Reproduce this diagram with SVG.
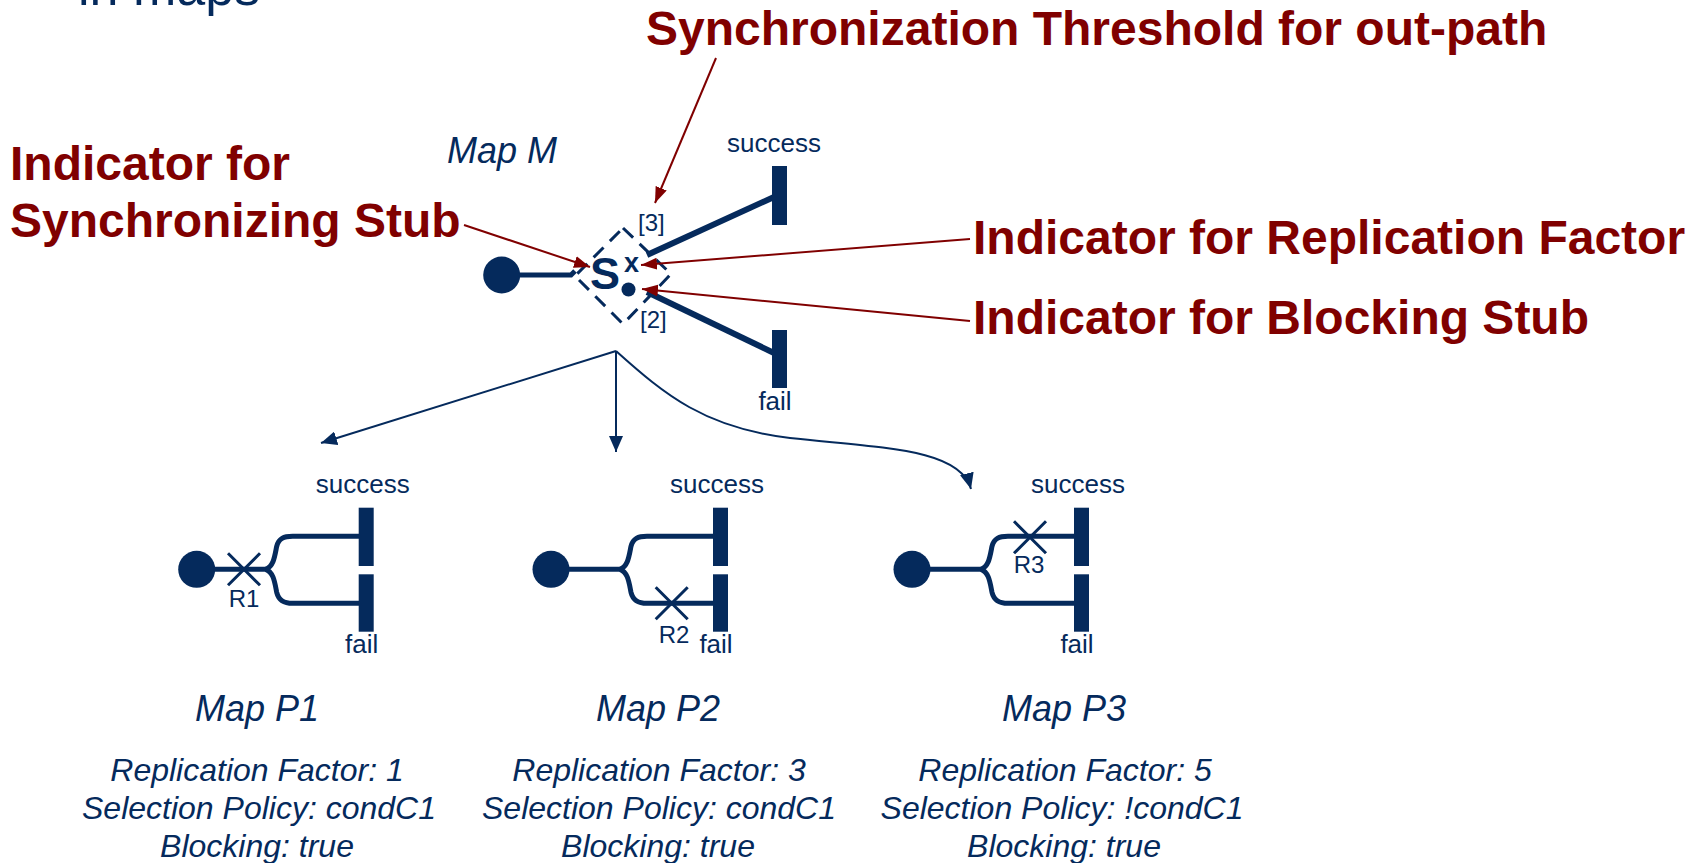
<svg xmlns="http://www.w3.org/2000/svg" xmlns:xlink="http://www.w3.org/1999/xlink" width="1696" height="863" viewBox="0 0 1696 863">
  <style>
    .navy { fill: #052a5c; }
    .red-title { fill: #800000; font-family: "Liberation Sans", Arial, sans-serif; font-weight: bold; font-size: 48px; }
    .lbl { fill: #052a5c; font-family: "Liberation Sans", Arial, sans-serif; }
    .it { font-style: italic; }
    .path-thick { fill: none; stroke: #052a5c; stroke-width: 5; stroke-linecap: butt; }
    .cross { fill: none; stroke: #052a5c; stroke-width: 3; }
    .conn { fill: none; stroke: #052a5c; stroke-width: 2; }
    .ann { fill: none; stroke: #800000; stroke-width: 2; }
  </style>
  <defs>
    <marker id="arrow-navy" viewBox="0 0 16 14" refX="16" refY="7" markerWidth="16" markerHeight="14" markerUnits="userSpaceOnUse" orient="auto">
      <path d="M0,0 L16,7 L0,14 z" fill="#052a5c"/>
    </marker>
    <marker id="arrow-red" viewBox="0 0 16 12" refX="16" refY="6" markerWidth="16" markerHeight="12" markerUnits="userSpaceOnUse" orient="auto">
      <path d="M0,0 L16,6 L0,12 z" fill="#800000"/>
    </marker>
    <!-- plugin map: start point, fork, two end bars with labels -->
    <g id="plugin-map">
      <circle cx="0" cy="0" r="18.5" class="navy"/>
      <path class="path-thick" d="M17,0 L70,0"/>
      <path class="path-thick" d="M69,0 C77,-3 78,-13 80,-23 C82,-31 87,-33 96,-33 L163,-33"/>
      <path class="path-thick" d="M69,0 C77,3 78,13 80,23 C82,31 87,34 96,34 L163,34"/>
      <rect x="162" y="-61.6" width="15" height="58.3" class="navy"/>
      <rect x="162" y="5" width="15" height="57.4" class="navy"/>
      <text x="166" y="-76" class="lbl" font-size="26" text-anchor="middle">success</text>
      <text x="165" y="83.4" class="lbl" font-size="26" text-anchor="middle">fail</text>
    </g>
  </defs>

  <rect width="1696" height="863" fill="#ffffff"/>

  <!-- heading fragment at the top edge -->
  <text x="78" y="5" class="lbl" font-size="52">in maps</text>

  <!-- annotation labels -->
  <g id="annotations">
    <text x="646" y="45" class="red-title">Synchronization Threshold for out-path</text>
    <text x="10" y="180" class="red-title">Indicator for</text>
    <text x="10" y="237" class="red-title">Synchronizing Stub</text>
    <text x="973" y="254" class="red-title">Indicator for Replication Factor</text>
    <text x="973" y="334" class="red-title">Indicator for Blocking Stub</text>
  </g>

  <!-- root map with the synchronizing stub -->
  <g id="map-m">
    <text x="447" y="163" class="lbl it" font-size="36">Map M</text>
    <circle cx="501.7" cy="275" r="18.5" class="navy"/>
    <polyline class="path-thick" points="518,275 571,275 575,271"/>
    <polygon points="623,228 671,274 623,324 575,276" fill="none" stroke="#052a5c" stroke-width="3" stroke-dasharray="14 9"/>
    <text x="590" y="289" class="lbl" font-size="45" font-weight="bold">S</text>
    <text x="624" y="272" class="lbl" font-size="27" font-weight="bold">x</text>
    <circle cx="628.5" cy="289.5" r="7" class="navy"/>
    <text x="638" y="231" class="lbl" font-size="24">[3]</text>
    <text x="640" y="328" class="lbl" font-size="24">[2]</text>
    <path d="M647,255 L774,197" fill="none" stroke="#052a5c" stroke-width="6"/>
    <path d="M647,292 L774,353" fill="none" stroke="#052a5c" stroke-width="6"/>
    <rect x="772" y="166" width="15" height="59" class="navy"/>
    <rect x="772" y="330" width="15" height="58" class="navy"/>
    <text x="774" y="152" class="lbl" font-size="26" text-anchor="middle">success</text>
    <text x="775" y="410" class="lbl" font-size="26" text-anchor="middle">fail</text>
  </g>

  <!-- plugin map P1 -->
  <g id="map-p1">
    <use xlink:href="#plugin-map" href="#plugin-map" x="196.7" y="569.3"/>
    <path class="cross" d="M228,553.3 L260,585.3 M260,553.3 L228,585.3"/>
    <text x="244" y="606.7" class="lbl" font-size="24" text-anchor="middle">R1</text>
    <text x="257" y="721" class="lbl it" font-size="36" text-anchor="middle">Map P1</text>
    <text x="257" y="781" class="lbl it" font-size="32" text-anchor="middle">Replication Factor: 1</text>
    <text x="259" y="819" class="lbl it" font-size="32" text-anchor="middle">Selection Policy: condC1</text>
    <text x="257" y="857" class="lbl it" font-size="32" text-anchor="middle">Blocking: true</text>
  </g>

  <!-- plugin map P2 -->
  <g id="map-p2">
    <use xlink:href="#plugin-map" href="#plugin-map" x="551" y="569.3"/>
    <path class="cross" d="M655.7,587.3 L687.7,619.3 M687.7,587.3 L655.7,619.3"/>
    <text x="674" y="643.3" class="lbl" font-size="24" text-anchor="middle">R2</text>
    <text x="658" y="721" class="lbl it" font-size="36" text-anchor="middle">Map P2</text>
    <text x="659" y="781" class="lbl it" font-size="32" text-anchor="middle">Replication Factor: 3</text>
    <text x="659" y="819" class="lbl it" font-size="32" text-anchor="middle">Selection Policy: condC1</text>
    <text x="658" y="857" class="lbl it" font-size="32" text-anchor="middle">Blocking: true</text>
  </g>

  <!-- plugin map P3 -->
  <g id="map-p3">
    <use xlink:href="#plugin-map" href="#plugin-map" x="912" y="569.3"/>
    <path class="cross" d="M1014,521.3 L1046,553.3 M1046,521.3 L1014,553.3"/>
    <text x="1029" y="573.3" class="lbl" font-size="24" text-anchor="middle">R3</text>
    <text x="1064" y="721" class="lbl it" font-size="36" text-anchor="middle">Map P3</text>
    <text x="1065" y="781" class="lbl it" font-size="32" text-anchor="middle">Replication Factor: 5</text>
    <text x="1062" y="819" class="lbl it" font-size="32" text-anchor="middle">Selection Policy: !condC1</text>
    <text x="1064" y="857" class="lbl it" font-size="32" text-anchor="middle">Blocking: true</text>
  </g>

  <!-- connectors -->
  <g id="connectors">
    <path class="conn" d="M616,351 L321,443" marker-end="url(#arrow-navy)"/>
    <path class="conn" d="M616,351 L616,452" marker-end="url(#arrow-navy)"/>
    <path class="conn" d="M616,351 C665,395 705,428 790,438 C880,448 960,448 971,489" marker-end="url(#arrow-navy)"/>
    <path class="ann" d="M716,58 L655,203" marker-end="url(#arrow-red)"/>
    <path class="ann" d="M464,225 L590,267" marker-end="url(#arrow-red)"/>
    <path class="ann" d="M970,239 L641,265" marker-end="url(#arrow-red)"/>
    <path class="ann" d="M970,321 L642,289" marker-end="url(#arrow-red)"/>
  </g>
</svg>
